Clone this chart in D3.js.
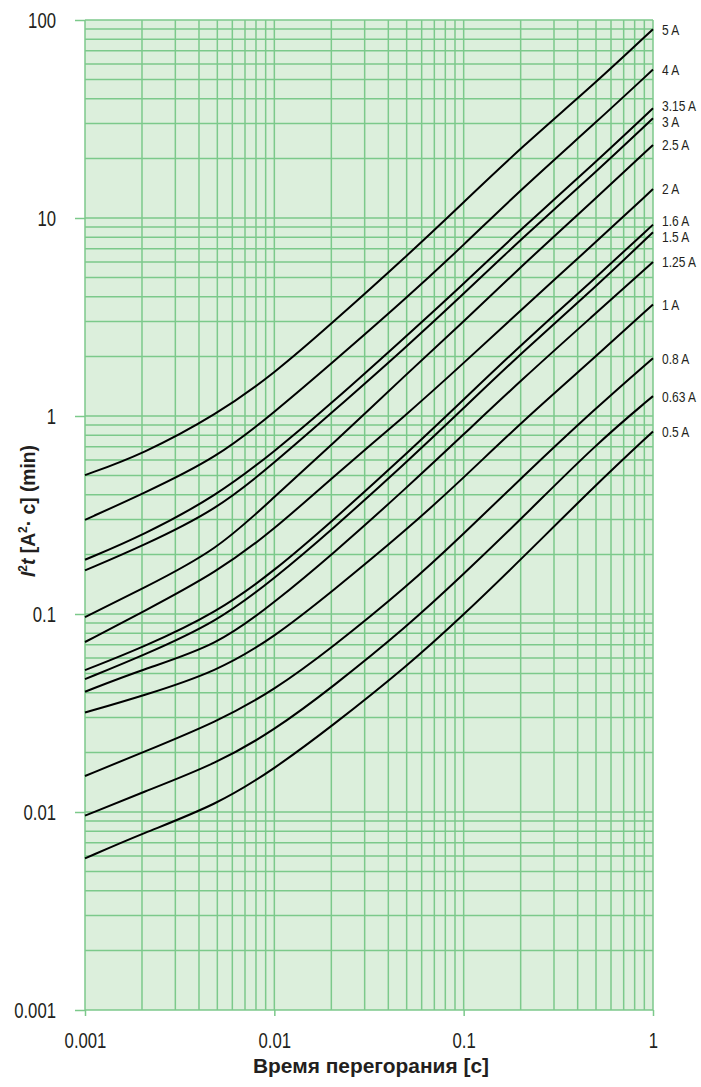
<!DOCTYPE html>
<html><head><meta charset="utf-8">
<script src="https://cdn.jsdelivr.net/npm/d3@7/dist/d3.min.js"></script>
<style>
html,body{margin:0;padding:0;background:#fff;}
svg{display:block;}
text{font-family:"Liberation Sans",Arial,sans-serif;fill:#231f20;}
</style></head>
<body>
<svg id="c" width="701" height="1087"></svg>
<script>
// ---- data ----
const times = [0.001, 0.002, 0.005, 0.01, 0.02, 0.05, 0.1, 0.2, 0.5, 1];
const seriesNames = ["5 A","4 A","3.15 A","3 A","2.5 A","2 A","1.6 A","1.5 A","1.25 A","1 A","0.8 A","0.63 A","0.5 A"];
const s5A   = [0.503, 0.638, 1.02, 1.64, 2.92, 6.41, 12.0, 22.6, 48.3, 89.9];
const s4A   = [0.299, 0.403, 0.616, 1.045, 1.84, 3.95, 7.3, 13.9, 30.4, 56.2];
const s315A = [0.188, 0.248, 0.397, 0.661, 1.155, 2.54, 4.65, 8.74, 19.2, 35.8];
const s3A   = [0.166, 0.220, 0.337, 0.58, 1.034, 2.24, 4.14, 7.79, 17.1, 31.9];
const s25A  = [0.0965, 0.134, 0.21, 0.391, 0.711, 1.63, 3.0, 5.67, 12.6, 23.4];
const s2A   = [0.0722, 0.102, 0.163, 0.267, 0.485, 1.016, 1.85, 3.42, 7.56, 14.0];
const s16A  = [0.0521, 0.0675, 0.102, 0.165, 0.292, 0.645, 1.21, 2.28, 5.01, 9.26];
const s15A  = [0.0469, 0.0614, 0.0912, 0.151, 0.265, 0.585, 1.095, 2.07, 4.5, 8.48];
const s125A = [0.0405, 0.0524, 0.0692, 0.1143, 0.198, 0.434, 0.807, 1.51, 3.31, 6.0];
const s1A   = [0.0318, 0.0385, 0.0513, 0.0764, 0.129, 0.266, 0.487, 0.923, 2.0, 3.66];
const s08A  = [0.0152, 0.01995, 0.0286, 0.0413, 0.0672, 0.137, 0.254, 0.483, 1.1, 1.96];
const s063A = [0.00958, 0.01254, 0.0176, 0.0259, 0.0423, 0.086, 0.159, 0.3, 0.722, 1.26];
const s05A  = [0.00583, 0.00778, 0.0109, 0.0165, 0.027, 0.0542, 0.099, 0.188, 0.45, 0.836];
const seriesValues = [s5A, s4A, s315A, s3A, s25A, s2A, s16A, s15A, s125A, s1A, s08A, s063A, s05A];
const xTickLabels = ["0.001", "0.01", "0.1", "1"];
const yTickLabels = ["0.001", "0.01", "0.1", "1", "10", "100"];
const xTitle = "Время перегорания [с]";

// ---- layout ----
const L = 85, R = 653, T = 20, B = 1010;
const x = d3.scaleLog().domain([0.001, 1]).range([L, R]);
const y = d3.scaleLog().domain([0.001, 100]).range([B, T]);
const svg = d3.select("#c");
const gridCol = "#7cc98b";

// condense text horizontally (mimic a condensed face)
function condense(sel, f) {
  sel.each(function () {
    const w = this.getComputedTextLength();
    d3.select(this).attr("textLength", w * f).attr("lengthAdjust", "spacingAndGlyphs");
  });
}

svg.append("rect").attr("x", L).attr("y", T).attr("width", R - L).attr("height", B - T)
  .attr("fill", "#dcefdc");

// grid
const grid = svg.append("g").attr("stroke", gridCol).attr("stroke-width", 1.5);
grid.selectAll("line.v").data(x.ticks()).join("line")
  .attr("x1", d => x(d)).attr("x2", d => x(d)).attr("y1", T).attr("y2", B);
grid.selectAll("line.h").data(y.ticks()).join("line")
  .attr("y1", d => y(d)).attr("y2", d => y(d)).attr("x1", L).attr("x2", R);

// major ticks with labels
const xMaj = xTickLabels.map(Number), yMaj = yTickLabels.map(Number);
const yAxis = d3.axisLeft(y).tickValues(yMaj).tickSize(10).tickPadding(19)
  .tickFormat((d, i) => yTickLabels[i]);
const gy = svg.append("g").attr("transform", `translate(${L},0)`).call(yAxis);
gy.select(".domain").remove();
gy.selectAll("line").attr("stroke", gridCol).attr("stroke-width", 1.5);
gy.selectAll("text").attr("font-size", 22).attr("fill", "#231f20")
  .attr("font-family", '"Liberation Sans",Arial,sans-serif').call(condense, 0.76);

const xAxis = d3.axisBottom(x).tickValues(xMaj).tickSize(6).tickPadding(16)
  .tickFormat((d, i) => xTickLabels[i]);
const gx = svg.append("g").attr("transform", `translate(0,${B})`).call(xAxis);
gx.select(".domain").remove();
gx.selectAll("line").attr("stroke", gridCol).attr("stroke-width", 1.5);
gx.selectAll("text").attr("font-size", 22).attr("fill", "#231f20")
  .attr("font-family", '"Liberation Sans",Arial,sans-serif').call(condense, 0.76);

// curves
const line = d3.line().x((d, i) => x(times[i])).y(d => y(d)).curve(d3.curveBasis);
svg.append("g").selectAll("path").data(seriesValues).join("path")
  .attr("d", d => line(d)).attr("fill", "none").attr("stroke", "#000").attr("stroke-width", 2);

// curve labels with simple collision avoidance
let labs = seriesValues.map((v, i) => ({ name: seriesNames[i], y: y(v[v.length - 1]) }));
const gap = 16;
for (let it = 0; it < 50; it++) {
  for (let i = 1; i < labs.length; i++) {
    const d = labs[i].y - labs[i - 1].y;
    if (d < gap) { const m = (gap - d) / 2; labs[i - 1].y -= m; labs[i].y += m; }
  }
}
svg.append("g").selectAll("text").data(labs).join("text")
  .attr("x", R + 9).attr("y", d => d.y).attr("dy", "0.36em")
  .attr("font-size", 15).text(d => d.name).call(condense, 0.8);

// axis titles
svg.append("text").attr("x", 371).attr("y", 1073).attr("text-anchor", "middle")
  .attr("font-size", 21).attr("font-weight", "bold").text(xTitle)
  .attr("textLength", 236).attr("lengthAdjust", "spacingAndGlyphs");

const yt = svg.append("text").attr("transform", "translate(35,511) rotate(-90)")
  .attr("text-anchor", "middle").attr("font-size", 21).attr("font-weight", "bold");
yt.append("tspan").attr("font-style", "italic").text("I");
yt.append("tspan").attr("font-size", 13).attr("dy", -8).text("2");
yt.append("tspan").attr("font-style", "italic").attr("dy", 8).text("t");
yt.append("tspan").text(" [A");
yt.append("tspan").attr("font-size", 13).attr("dy", -8).text("2");
yt.append("tspan").attr("dy", 8).text("· c] (min)");
yt.attr("textLength", 132).attr("lengthAdjust", "spacingAndGlyphs");
</script>
</body></html>
